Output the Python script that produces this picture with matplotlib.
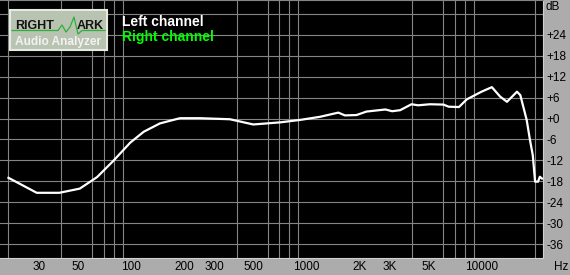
import matplotlib
matplotlib.use("Agg")
import matplotlib.pyplot as plt
from matplotlib.patches import Rectangle
from matplotlib.lines import Line2D
from matplotlib.ticker import FixedLocator, NullFormatter

# frequency response, left channel
freq = [20, 29, 39, 51, 64, 79, 99, 118, 146, 190, 247, 366, 497, 594, 707,
        918, 1195, 1519, 1656, 1927, 2197, 2818, 3080, 3420, 3970, 4330,
        5060, 6040, 6460, 7400, 8200, 9950, 11400, 12700, 13900, 15850,
        16560, 18000, 18800, 19500, 20100, 20900, 21400, 22000]
level = [-17.0, -21.3, -21.3, -20.1, -16.8, -12.2, -6.9, -3.8, -1.4, 0.1,
         0.1, -0.2, -1.7, -1.4, -1.1, -0.4, 0.5, 1.7, 0.9, 1.0, 2.0, 2.6,
         2.1, 2.4, 4.1, 3.8, 4.1, 4.0, 3.4, 3.3, 5.5, 7.7, 9.0, 6.3, 4.8,
         7.7, 6.7, -0.4, -6.2, -10.5, -18.1, -18.1, -16.7, -17.2]

grid_freqs = [20, 30, 40, 50, 60, 70, 80, 90,
              100, 200, 300, 400, 500, 600, 700, 800, 900,
              1000, 2000, 3000, 4000, 5000, 6000, 7000, 8000, 9000,
              10000, 20000]
xtick_vals = [30, 50, 100, 200, 300, 500, 1000, 2000, 3000, 5000, 10000]
xtick_labels = ["30", "50", "100", "200", "300", "500", "1000", "2K", "3K", "5K", "10000"]
ytick_vals = [-36, -30, -24, -18, -12, -6, 0, 6, 12, 18, 24, 30]
ytick_labels = ["-36", "-30", "-24", "-18", "-12", "-6", "+0", "+6", "+12", "+18", "+24", ""]

W, H = 570, 275
fig = plt.figure(figsize=(W / 100, H / 100), dpi=100, facecolor="#acacac")
ax = fig.add_axes([0, 17 / H, 543 / W, 258 / H])
ax.set_facecolor("black")

ax.set_xscale("log")
ax.set_xlim(17.9, 22300)
ax.set_ylim(-40, 34)

ax.xaxis.set_major_locator(FixedLocator(xtick_vals))
ax.xaxis.set_minor_locator(FixedLocator(grid_freqs))
ax.xaxis.set_minor_formatter(NullFormatter())
ax.set_xticklabels(xtick_labels)
ax.set_yticks(ytick_vals)
ax.set_yticklabels(ytick_labels)
ax.yaxis.tick_right()
ax.tick_params(which="both", length=0)
ax.tick_params(axis="x", pad=2.2, labelsize=8.5, labelcolor="black")
ax.tick_params(axis="y", pad=2.2, labelsize=8.5, labelcolor="black")
for lab in ax.get_xticklabels() + ax.get_yticklabels():
    lab.set_fontfamily("Liberation Sans")

ax.grid(which="minor", axis="x", color="#858585", lw=0.8)
ax.grid(which="major", axis="y", color="#858585", lw=0.8)
ax.set_axisbelow(True)

ax.spines["left"].set_visible(False)
ax.spines["top"].set_color("#858585")
ax.spines["right"].set_color("#d0d0d0")
ax.spines["bottom"].set_color("#d0d0d0")

ax.plot(freq, level, color="white", lw=1.6, solid_joinstyle="round")

# axis unit labels
fig.text(546 / W, 1 - 10 / H, "dB", fontsize=8.5, family="Liberation Sans")
fig.text(554 / W, 1 - 270 / H, "Hz", fontsize=8.5, family="Liberation Sans")

# legend texts
fig.text(122 / W, 1 - 26 / H, "Left channel", color="white", fontsize=10,
         fontweight="bold", family="Liberation Sans")
fig.text(122 / W, 1 - 41 / H, "Right channel", color="#00ff00", fontsize=10,
         fontweight="bold", family="Liberation Sans")

# logo
fig.patches.append(Rectangle((10 / W, 1 - 50 / H), 97 / W, 40 / H,
                             transform=fig.transFigure, facecolor="#b9c3b1",
                             edgecolor="#e6ebe2", lw=1.5))
wx = [12, 58, 62, 66, 70, 74, 78, 82, 105]
wy = [30.5, 30.5, 25, 32, 27, 17, 34, 30.5, 30.5]
fig.lines.append(Line2D([v / W for v in wx], [1 - v / H for v in wy],
                        transform=fig.transFigure, color="#2fae3a", lw=0.9))
fig.text(15 / W, 1 - 29 / H, "RIGHT", color="#141414", fontsize=9,
         fontweight="bold", family="Liberation Sans")
fig.text(77 / W, 1 - 29 / H, "ARK", color="#141414", fontsize=9,
         fontweight="bold", family="Liberation Sans")
fig.text(15 / W, 1 - 45 / H, "Audio Analyzer", color="#f2f2f2", fontsize=8.6,
         fontweight="bold", family="Liberation Sans")

fig.savefig("out.png", dpi=100, facecolor=fig.get_facecolor())
